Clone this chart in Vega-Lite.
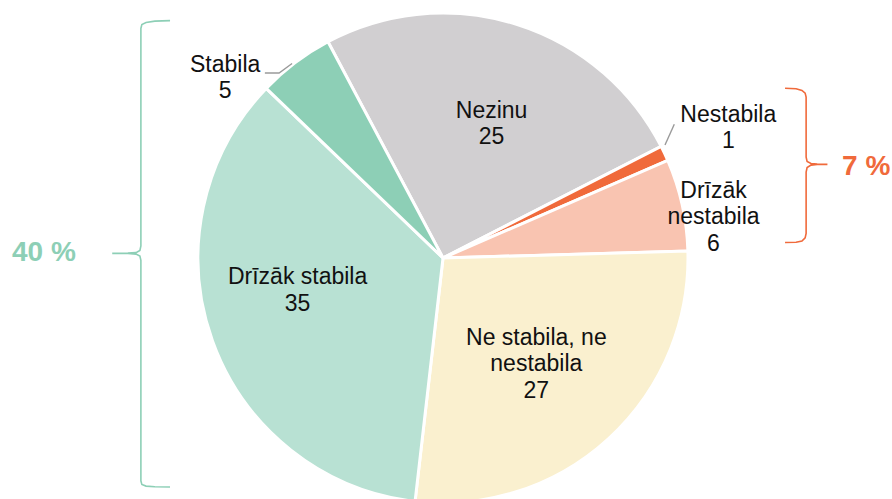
{
  "$schema": "https://vega.github.io/schema/vega-lite/v6.json",
  "width": 886,
  "height": 482,
  "autosize": {"type": "none"},
  "padding": {"left": 0, "top": 17, "right": 6, "bottom": 0},
  "background": "white",
  "config": {"view": {"stroke": null}},
  "datasets": {
    "slices": [
      {"k": "Nezinu", "label": "Nezinu\n25", "v": 25, "i": 1},
      {"k": "Nestabila", "label": "Nestabila\n1", "v": 1, "i": 2},
      {"k": "Drīzāk nestabila", "label": "Drīzāk\nnestabila\n6", "v": 6, "i": 3},
      {"k": "Ne stabila, ne nestabila", "label": "Ne stabila, ne\nnestabila\n27", "v": 27, "i": 4},
      {"k": "Drīzāk stabila", "label": "Drīzāk stabila\n35", "v": 35, "i": 5},
      {"k": "Stabila", "label": "Stabila\n5", "v": 5, "i": 6}
    ],
    "shapes": [
      {"s": "left", "i": 1, "x": -111.4, "y": 96.9},
      {"s": "left", "i": 2, "x": -117.6, "y": 96.7},
      {"s": "left", "i": 3, "x": -121.2, "y": 96.1},
      {"s": "left", "i": 4, "x": -122.9, "y": 95.3},
      {"s": "left", "i": 5, "x": -123.3, "y": 93.7},
      {"s": "left", "i": 6, "x": -123.3, "y": 4.9},
      {"s": "left", "i": 7, "x": -123.7, "y": 3.1},
      {"s": "left", "i": 8, "x": -125.3, "y": 2.2},
      {"s": "left", "i": 9, "x": -128.6, "y": 2.0},
      {"s": "left", "i": 10, "x": -135.0, "y": 1.9},
      {"s": "left", "i": 11, "x": -128.6, "y": 1.9},
      {"s": "left", "i": 12, "x": -125.3, "y": 1.6},
      {"s": "left", "i": 13, "x": -123.7, "y": 0.8},
      {"s": "left", "i": 14, "x": -123.3, "y": -1.0},
      {"s": "left", "i": 15, "x": -123.3, "y": -91.0},
      {"s": "left", "i": 16, "x": -122.9, "y": -92.4},
      {"s": "left", "i": 17, "x": -121.2, "y": -93.1},
      {"s": "left", "i": 18, "x": -117.6, "y": -93.4},
      {"s": "left", "i": 19, "x": -111.4, "y": -93.5},
      {"s": "right", "i": 1, "x": 139.6, "y": 69.3},
      {"s": "right", "i": 2, "x": 144.1, "y": 69.1},
      {"s": "right", "i": 3, "x": 146.5, "y": 68.4},
      {"s": "right", "i": 4, "x": 147.8, "y": 67.3},
      {"s": "right", "i": 5, "x": 148.2, "y": 65.7},
      {"s": "right", "i": 6, "x": 148.2, "y": 41.2},
      {"s": "right", "i": 7, "x": 148.6, "y": 39.4},
      {"s": "right", "i": 8, "x": 150.2, "y": 38.6},
      {"s": "right", "i": 9, "x": 152.7, "y": 38.3},
      {"s": "right", "i": 10, "x": 156.9, "y": 38.2},
      {"s": "right", "i": 11, "x": 152.7, "y": 38.2},
      {"s": "right", "i": 12, "x": 150.2, "y": 37.9},
      {"s": "right", "i": 13, "x": 148.6, "y": 36.9},
      {"s": "right", "i": 14, "x": 148.2, "y": 35.1},
      {"s": "right", "i": 15, "x": 148.2, "y": 10.0},
      {"s": "right", "i": 16, "x": 147.8, "y": 8.2},
      {"s": "right", "i": 17, "x": 146.5, "y": 6.9},
      {"s": "right", "i": 18, "x": 144.1, "y": 6.4},
      {"s": "right", "i": 19, "x": 139.6, "y": 6.3},
      {"s": "leadStabila", "i": 1, "x": -72.7, "y": 75.5},
      {"s": "leadStabila", "i": 2, "x": -66.9, "y": 75.5},
      {"s": "leadStabila", "i": 3, "x": -61.6, "y": 79.4},
      {"s": "leadNestabila", "i": 1, "x": 90.6, "y": 46.1},
      {"s": "leadNestabila", "i": 2, "x": 94.4, "y": 54.6}
    ],
    "pct": [
      {"t": "40 %", "g": "stable", "x": -162.9, "y": 2.2},
      {"t": "7 %", "g": "unstable", "x": 172.7, "y": 37.2}
    ]
  },
  "layer": [
    {
      "data": {"name": "slices"},
      "mark": {"type": "arc", "outerRadius": 245, "stroke": "white", "strokeWidth": 3},
      "encoding": {
        "theta": {"field": "v", "type": "quantitative", "stack": true, "scale": {"range": [-0.4887, 5.7945]}},
        "color": {
          "field": "k", "type": "nominal", "legend": null,
          "scale": {
            "domain": ["Nezinu", "Nestabila", "Drīzāk nestabila", "Ne stabila, ne nestabila", "Drīzāk stabila", "Stabila"],
            "range": ["#d1cfd1", "#f06a3b", "#f9c4b1", "#faf0cf", "#b8e1d3", "#8dcfb6"]
          }
        },
        "order": {"field": "i", "type": "quantitative"}
      }
    },
    {
      "data": {"name": "slices"},
      "mark": {"type": "text", "radius": 142, "dx": 6, "dy": -12, "font": "Liberation Sans", "fontSize": 23, "lineHeight": 26.5, "lineBreak": "\n", "align": "center", "baseline": "middle", "color": "#111111"},
      "encoding": {
        "theta": {"field": "v", "type": "quantitative", "stack": true},
        "detail": {"field": "k", "type": "nominal"},
        "order": {"field": "i", "type": "quantitative"},
        "text": {"condition": {"test": "datum.k === 'Nezinu'", "field": "label"}, "value": ""}
      }
    },
    {
      "data": {"name": "slices"},
      "mark": {"type": "text", "radius": 141, "dx": -2, "dy": -24, "font": "Liberation Sans", "fontSize": 23, "lineHeight": 26.5, "lineBreak": "\n", "align": "center", "baseline": "middle", "color": "#111111"},
      "encoding": {
        "theta": {"field": "v", "type": "quantitative", "stack": true},
        "detail": {"field": "k", "type": "nominal"},
        "order": {"field": "i", "type": "quantitative"},
        "text": {"condition": {"test": "datum.k === 'Ne stabila, ne nestabila'", "field": "label"}, "value": ""}
      }
    },
    {
      "data": {"name": "slices"},
      "mark": {"type": "text", "radius": 145, "dx": -9, "dy": -30, "font": "Liberation Sans", "fontSize": 23, "lineHeight": 26.5, "lineBreak": "\n", "align": "center", "baseline": "middle", "color": "#111111"},
      "encoding": {
        "theta": {"field": "v", "type": "quantitative", "stack": true},
        "detail": {"field": "k", "type": "nominal"},
        "order": {"field": "i", "type": "quantitative"},
        "text": {"condition": {"test": "datum.k === 'Drīzāk stabila'", "field": "label"}, "value": ""}
      }
    },
    {
      "data": {"name": "slices"},
      "mark": {"type": "text", "radius": 272, "dx": 5, "dy": -8, "font": "Liberation Sans", "fontSize": 23, "lineHeight": 26.5, "lineBreak": "\n", "align": "center", "baseline": "middle", "color": "#111111"},
      "encoding": {
        "theta": {"field": "v", "type": "quantitative", "stack": true},
        "detail": {"field": "k", "type": "nominal"},
        "order": {"field": "i", "type": "quantitative"},
        "text": {"condition": {"test": "datum.k === 'Drīzāk nestabila'", "field": "label"}, "value": ""}
      }
    },
    {
      "data": {"name": "slices"},
      "mark": {"type": "text", "radius": 300, "dx": 14, "dy": -15, "font": "Liberation Sans", "fontSize": 23, "lineHeight": 26.5, "lineBreak": "\n", "align": "center", "baseline": "middle", "color": "#111111"},
      "encoding": {
        "theta": {"field": "v", "type": "quantitative", "stack": true},
        "detail": {"field": "k", "type": "nominal"},
        "order": {"field": "i", "type": "quantitative"},
        "text": {"condition": {"test": "datum.k === 'Nestabila'", "field": "label"}, "value": ""}
      }
    },
    {
      "data": {"name": "slices"},
      "mark": {"type": "text", "radius": 290, "dx": -43, "dy": 38, "font": "Liberation Sans", "fontSize": 23, "lineHeight": 26.5, "lineBreak": "\n", "align": "center", "baseline": "middle", "color": "#111111"},
      "encoding": {
        "theta": {"field": "v", "type": "quantitative", "stack": true},
        "detail": {"field": "k", "type": "nominal"},
        "order": {"field": "i", "type": "quantitative"},
        "text": {"condition": {"test": "datum.k === 'Stabila'", "field": "label"}, "value": ""}
      }
    },
    {
      "data": {"name": "shapes"},
      "transform": [{"filter": "datum.s === 'left'"}],
      "mark": {"type": "line", "color": "#8dcfb6", "strokeWidth": 1.6},
      "encoding": {
        "x": {"field": "x", "type": "quantitative", "scale": {"domain": [-180.8, 180.8], "nice": false, "zero": false}, "axis": null},
        "y": {"field": "y", "type": "quantitative", "scale": {"domain": [-98.37, 98.37], "nice": false, "zero": false}, "axis": null},
        "order": {"field": "i", "type": "quantitative"}
      }
    },
    {
      "data": {"name": "shapes"},
      "transform": [{"filter": "datum.s === 'right'"}],
      "mark": {"type": "line", "color": "#f06a3b", "strokeWidth": 1.6},
      "encoding": {
        "x": {"field": "x", "type": "quantitative"},
        "y": {"field": "y", "type": "quantitative"},
        "order": {"field": "i", "type": "quantitative"}
      }
    },
    {
      "data": {"name": "shapes"},
      "transform": [{"filter": "indexof(datum.s, 'lead') === 0"}],
      "mark": {"type": "line", "color": "#9a9a9a", "strokeWidth": 1.4},
      "encoding": {
        "x": {"field": "x", "type": "quantitative"},
        "y": {"field": "y", "type": "quantitative"},
        "detail": {"field": "s", "type": "nominal"},
        "order": {"field": "i", "type": "quantitative"}
      }
    },
    {
      "data": {"name": "pct"},
      "mark": {"type": "text", "font": "Liberation Sans", "fontSize": 28, "fontWeight": "bold", "align": "center", "baseline": "middle"},
      "encoding": {
        "x": {"field": "x", "type": "quantitative"},
        "y": {"field": "y", "type": "quantitative"},
        "text": {"field": "t"},
        "fill": {"field": "g", "type": "nominal", "legend": null, "scale": {"domain": ["stable", "unstable"], "range": ["#8dcfb6", "#f06a3b"]}}
      }
    }
  ]
}
